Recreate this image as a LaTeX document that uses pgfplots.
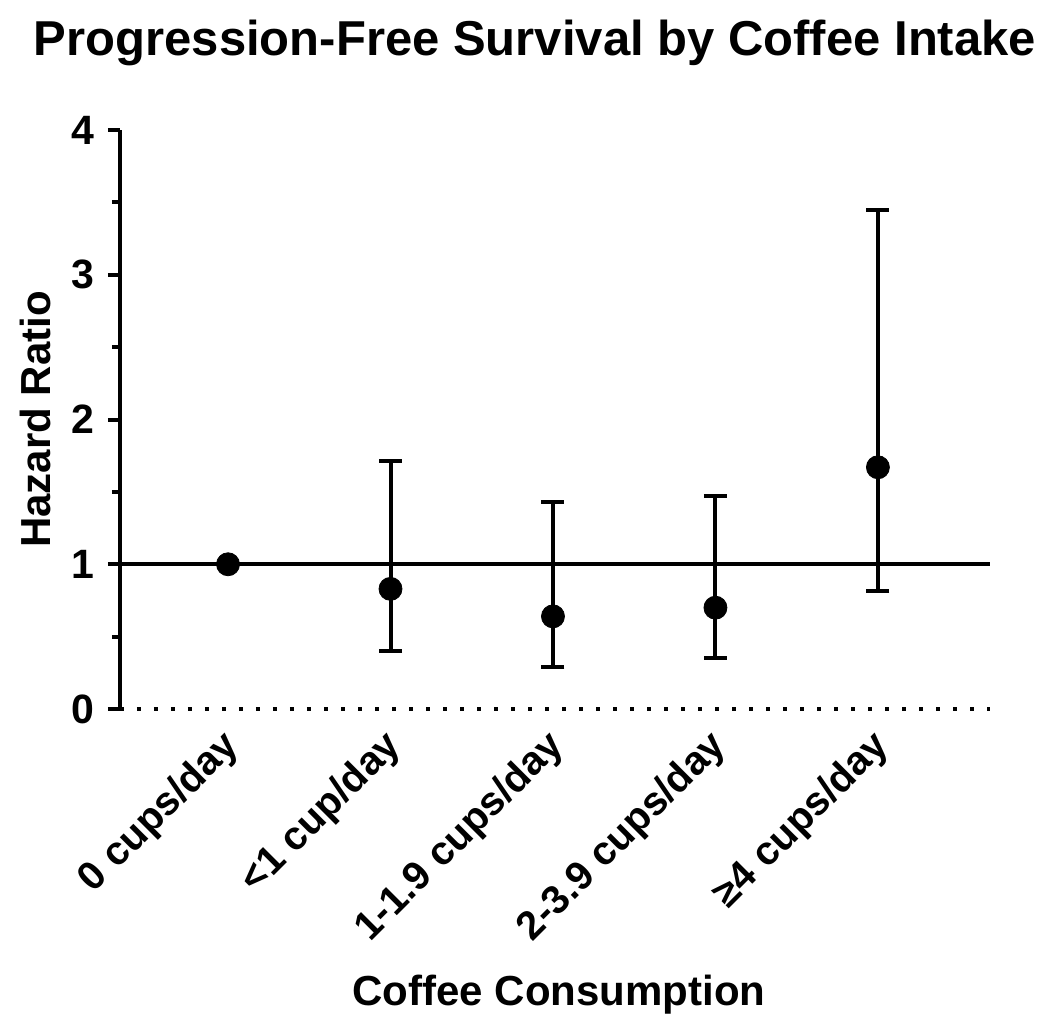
\documentclass[border=0pt]{standalone}
\usepackage{pgfplots}
\pgfplotsset{compat=1.18}
\usepackage{fontspec}
\setmainfont{Liberation Sans}
\begin{document}
\bfseries
\begin{tikzpicture}
\useasboundingbox (-60pt,-163pt) rectangle (465pt,354.5pt);
\begin{axis}[
  at={(0,0)}, anchor=south west,
  scale only axis,
  width=435pt, height=289.5pt,
  xmin=-0.665, xmax=4.69,
  ymin=0, ymax=4,
  axis x line*=bottom, axis y line*=left,
  axis line style={-},
  x axis line style={line width=2pt, dash pattern=on 2pt off 6.5pt},
  y axis line style={line width=2.2pt},
  xtick={0,1,2,3,4},
  xticklabels={0 cups/day,<1 cup/day,1-1.9 cups/day,2-3.9 cups/day,≥4 cups/day},
  xtick style={draw=none},
  ytick={0,1,2,3,4},
  minor y tick num=1,
  tick align=outside,
  major tick length=6pt, minor tick length=4pt,
  y tick style={line width=2pt, black},
  /pgf/number format/assume math mode=true,
  yticklabel style={font=\fontsize{20.5}{24}\selectfont\bfseries, xshift=-3.5pt},
  xticklabel style={font=\fontsize{20}{24}\selectfont\bfseries, rotate=45, anchor=east, xshift=-1.5pt, yshift=-8.4pt},
  title={Progression-Free Survival by Coffee Intake},
  title style={font=\fontsize{24.5}{28}\selectfont\bfseries, at={(rel axis cs:0.477,1)}, anchor=center, yshift=37.5pt},
  ylabel={Hazard Ratio},
  ylabel style={font=\fontsize{21}{24}\selectfont\bfseries, at={(rel axis cs:-0.0977,0.5)}, anchor=center},
  xlabel={Coffee Consumption},
  xlabel style={font=\fontsize{21}{24}\selectfont\bfseries, at={(rel axis cs:0.5046,-0.494)}, anchor=center},
  clip=false,
]
\addplot[black, line width=2pt] coordinates {(-0.665,1) (4.69,1)};
\addplot[only marks, mark=*, mark size=5.75pt, black] coordinates {(0,1.0)};
\addplot[only marks, mark=*, mark size=5.75pt, black,
  error bars/.cd, y dir=both, y explicit,
  error bar style={line width=2pt, black},
  error mark options={rotate=90, line width=2pt, mark size=5.75pt, black}]
  table[x=x, y=y, y error plus=ep, y error minus=em]{
x y ep em
1 0.83 0.88 0.43
2 0.64 0.79 0.35
3 0.70 0.77 0.35
4 1.67 1.78 0.855
};
\end{axis}
\end{tikzpicture}
\end{document}
